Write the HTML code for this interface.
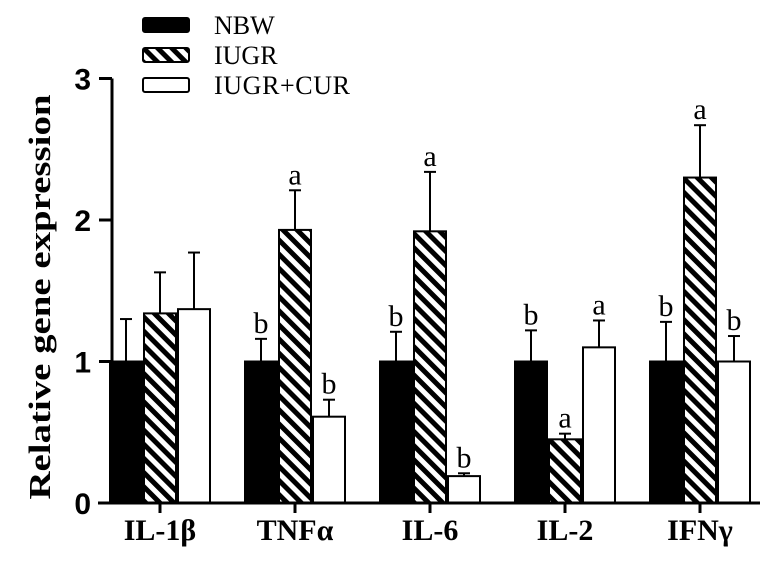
<!DOCTYPE html>
<html><head><meta charset="utf-8"><style>
body{margin:0;background:#fff}
svg{display:block}
text{font-family:"Liberation Serif",serif;fill:#000}
</style></head><body>
<svg id="chart" width="775" height="580">
<defs>
<pattern id="hatch" patternUnits="userSpaceOnUse" width="10" height="10" patternTransform="rotate(45)">
<rect width="10" height="10" fill="#fff"/><rect width="10" height="5" fill="#000"/>
</pattern>
</defs>
<g id="legend">
<rect x="143" y="18" width="46" height="14" rx="2" fill="#000" stroke="#000" stroke-width="2"/>
<text x="214" y="34" font-size="26">NBW</text>
<rect x="143" y="48" width="46" height="14" rx="2" fill="url(#hatch)" stroke="#000" stroke-width="2"/>
<text x="214" y="64" font-size="26">IUGR</text>
<rect x="143" y="78" width="46" height="14" rx="2" fill="#fff" stroke="#000" stroke-width="2"/>
<text x="214" y="94" font-size="26" textLength="136">IUGR+CUR</text>
</g>
<text transform="translate(50,297) rotate(-90)" text-anchor="middle" font-size="31" font-weight="bold" textLength="405" lengthAdjust="spacingAndGlyphs">Relative gene expression</text>
<g id="plot"></g>
</svg>
<script>
const categories=["IL-1β","TNFα","IL-6","IL-2","IFNγ"];
const nbw=[1,1,1,1,1];
const iugr=[1.34,1.93,1.92,0.45,2.30];
const cur=[1.37,0.61,0.19,1.10,1.00];
const nbwErr=[0.30,0.16,0.21,0.22,0.28];
const iugrErr=[0.29,0.28,0.42,0.04,0.37];
const curErr=[0.40,0.12,0.02,0.19,0.18];
const nbwSig=["","b","b","b","b"];
const iugrSig=["","a","a","a","a"];
const curSig=["","b","b","a","b"];
const yTicks=[0,1,2,3];

const NS="http://www.w3.org/2000/svg";
const g=document.getElementById('plot');
const y0=503,pxPerUnit=141.5,axisX=112;
function y(v){return y0-v*pxPerUnit;}
function xc(i){return 160+i*135;}
function el(tag,attrs){const e=document.createElementNS(NS,tag);for(const k in attrs)e.setAttribute(k,attrs[k]);g.appendChild(e);return e;}

const series=[{d:nbw,e:nbwErr,s:nbwSig,fill:"#000",n:"nbw"},{d:iugr,e:iugrErr,s:iugrSig,fill:"url(#hatch)",n:"iugr"},{d:cur,e:curErr,s:curSig,fill:"#fff",n:"iugr-cur"}];
const bw=34;
categories.forEach((c,i)=>{
  series.forEach((s,j)=>{
    const x=xc(i)-51+j*bw;
    const cx=x+bw/2;
    const v=s.d[i],top=v+s.e[i];
    const ln=el('line',{x1:cx,x2:cx,y1:y(v),y2:y(top),stroke:"#000","stroke-width":2});
    
    
    const cap=el('line',{x1:cx-6,x2:cx+6,y1:y(top),y2:y(top),stroke:"#000","stroke-width":2});
    
    
    const r=el('rect',{x:x+1,y:y(v),width:bw-2,height:y0-y(v),fill:s.fill,stroke:"#000","stroke-width":2});
    
    
    if(s.s[i]){
      const t=el('text',{x:cx,y:y(top)-6,"text-anchor":"middle","font-size":30});
      t.textContent=s.s[i];
      
      
    }
  });
  const tk=el('line',{x1:xc(i),x2:xc(i),y1:y0,y2:y0+10,stroke:"#000","stroke-width":3});
  
  
  const lb=el('text',{x:xc(i),y:540,"text-anchor":"middle","font-size":30,"font-weight":"bold"});
  lb.textContent=c;
  
  
});
const ya=el('line',{x1:axisX,x2:axisX,y1:y(3),y2:y0+1,stroke:"#000","stroke-width":3});


const xa=el('line',{x1:98,x2:760,y1:y0,y2:y0,stroke:"#000","stroke-width":3});


yTicks.forEach(t=>{
  const l=el('line',{x1:99,x2:axisX,y1:y(t),y2:y(t),stroke:"#000","stroke-width":3});
  
  
  const tx=el('text',{x:91,y:y(t)+11,"text-anchor":"end","font-size":30,"font-weight":"bold"});
  tx.setAttribute('style','font-family:"Liberation Sans",sans-serif');
  tx.textContent=t;
  
  
});
</script>
</body></html>
